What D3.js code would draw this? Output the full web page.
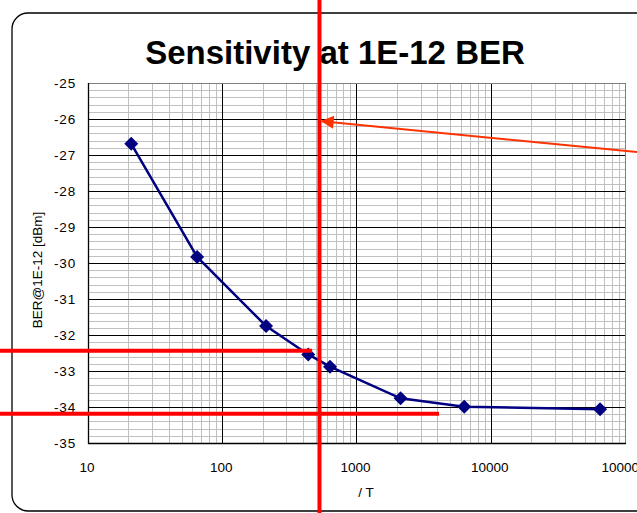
<!DOCTYPE html>
<html>
<head>
<meta charset="utf-8">
<script src="https://cdn.jsdelivr.net/npm/d3@7"></script>
<style>
  body { margin: 0; background: #fff; }
  svg { display: block; font-family: "Liberation Sans", Arial, sans-serif; }
</style>
</head>
<body>
<svg id="chart" width="637" height="513"></svg>
<script>
// data
var periods = [21, 65, 212, 437, 635, 2130, 6350, 65200];
var sensitivity = [-26.69, -29.83, -31.75, -32.54, -32.88, -33.76, -33.99, -34.06];
var xTicks = [10, 100, 1000, 10000, 100000];
var yTicks = [-25, -26, -27, -28, -29, -30, -31, -32, -33, -34, -35];

// red markup drawn on top, in data units
var markVertical = 530;
var markHorizontal = [{y: -32.44, xEnd: 467}, {y: -34.19, xEnd: 4120}];
var arrowFrom = {x: 123000, y: -26.92};
var arrowTo = {x: 553, y: -26.06};

var svg = d3.select("#chart");
var W = 637, H = 513;
var margin = {top: 83, right: 12, bottom: 70, left: 88};

svg.append("rect").attr("width", W).attr("height", H).attr("fill", "#fff");

// outer chart frame (runs off the right edge)
svg.append("rect")
    .attr("x", 12).attr("y", 13)
    .attr("width", 700).attr("height", 498)
    .attr("rx", 16).attr("ry", 16)
    .attr("fill", "none")
    .attr("stroke", "#000")
    .attr("stroke-width", 1.3);

var x = d3.scaleLog()
    .domain([10, 100000])
    .range([margin.left, W - margin.right]);

var y = d3.scaleLinear()
    .domain([-35, -25])
    .range([H - margin.bottom, margin.top]);

var g = svg.append("g");

// minor grid
var minorX = [];
[10, 100, 1000, 10000].forEach(function(d) {
    for (var k = 2; k <= 9; k++) minorX.push(d * k);
});
var minorY = d3.range(-350, -250, 2).map(function(v) { return v / 10; })
    .filter(function(v) { return Math.round(v) !== v; });

g.selectAll(".minx").data(minorX).enter().append("line")
    .attr("x1", function(d) { return Math.round(x(d)) + 0.5; })
    .attr("x2", function(d) { return Math.round(x(d)) + 0.5; })
    .attr("y1", y(-25)).attr("y2", y(-35))
    .attr("stroke", "#c0c0c0");

g.selectAll(".miny").data(minorY).enter().append("line")
    .attr("x1", x(10)).attr("x2", x(100000))
    .attr("y1", function(d) { return Math.round(y(d)) + 0.5; })
    .attr("y2", function(d) { return Math.round(y(d)) + 0.5; })
    .attr("stroke", "#c0c0c0");

// major grid
g.selectAll(".majx").data([100, 1000, 10000]).enter().append("line")
    .attr("x1", function(d) { return Math.round(x(d)) + 0.5; })
    .attr("x2", function(d) { return Math.round(x(d)) + 0.5; })
    .attr("y1", y(-25)).attr("y2", y(-35))
    .attr("stroke", "#000");

g.selectAll(".majy").data(yTicks.slice(1, -1)).enter().append("line")
    .attr("x1", x(10)).attr("x2", x(100000))
    .attr("y1", function(d) { return Math.round(y(d)) + 0.5; })
    .attr("y2", function(d) { return Math.round(y(d)) + 0.5; })
    .attr("stroke", "#000");

// plot border
g.append("rect")
    .attr("x", Math.round(x(10)) + 0.5).attr("y", Math.round(y(-25)) + 0.5)
    .attr("width", Math.round(x(100000)) - Math.round(x(10)))
    .attr("height", Math.round(y(-35)) - Math.round(y(-25)))
    .attr("fill", "none").attr("stroke", "#808080");

// axes lines
svg.append("line")
    .attr("x1", Math.round(x(10)) + 0.5).attr("x2", Math.round(x(10)) + 0.5)
    .attr("y1", y(-25)).attr("y2", y(-35) + 1)
    .attr("stroke", "#000").attr("stroke-width", 1.3);
svg.append("line")
    .attr("x1", x(10)).attr("x2", x(100000) + 1)
    .attr("y1", Math.round(y(-35)) + 0.5).attr("y2", Math.round(y(-35)) + 0.5)
    .attr("stroke", "#000").attr("stroke-width", 1.3);

// tick labels
svg.append("g").selectAll("text").data(yTicks).enter().append("text")
    .attr("x", 76)
    .attr("y", function(d) { return y(d) + 5; })
    .attr("text-anchor", "end")
    .attr("font-size", 13.5)
    .attr("letter-spacing", 0.8)
    .text(function(d) { return d; });

svg.append("g").selectAll("text").data(xTicks).enter().append("text")
    .attr("x", function(d) { return x(d) - 1; })
    .attr("y", 472)
    .attr("text-anchor", "middle")
    .attr("font-size", 13.5)
    .text(function(d) { return d; });

// titles
svg.append("text")
    .attr("x", 335).attr("y", 64)
    .attr("text-anchor", "middle")
    .attr("font-size", 33)
    .attr("font-weight", "bold")
    .text("Sensitivity at 1E-12 BER");

svg.append("text")
    .attr("transform", "translate(42,270) rotate(-90)")
    .attr("text-anchor", "middle")
    .attr("font-size", 13.5)
    .text("BER@1E-12 [dBm]");

svg.append("text")
    .attr("x", 366).attr("y", 497)
    .attr("text-anchor", "middle")
    .attr("font-size", 13.5)
    .text("/ T");

// series
var pts = periods.map(function(p, i) { return [p, sensitivity[i]]; });
var line = d3.line()
    .x(function(d) { return x(d[0]); })
    .y(function(d) { return y(d[1]); });

svg.append("path")
    .datum(pts)
    .attr("d", line)
    .attr("fill", "none")
    .attr("stroke", "#000080")
    .attr("stroke-width", 2.5);

svg.selectAll(".dot").data(pts).enter().append("path")
    .attr("class", "dot")
    .attr("transform", function(d) { return "translate(" + x(d[0]) + "," + y(d[1]) + ")"; })
    .attr("d", "M0,-7L7,0L0,7L-7,0Z")
    .attr("fill", "#000080");

// red markup
var red = svg.append("g");
red.append("line")
    .attr("x1", x(markVertical)).attr("x2", x(markVertical))
    .attr("y1", 0).attr("y2", H)
    .attr("stroke", "#ff0000").attr("stroke-width", 4);

red.selectAll(".hl").data(markHorizontal).enter().append("line")
    .attr("x1", 0).attr("x2", function(d) { return x(d.xEnd); })
    .attr("y1", function(d) { return y(d.y); })
    .attr("y2", function(d) { return y(d.y); })
    .attr("stroke", "#ff0000").attr("stroke-width", 4);

svg.append("defs").append("marker")
    .attr("id", "head")
    .attr("viewBox", "0 0 10 10")
    .attr("refX", 9).attr("refY", 5)
    .attr("markerWidth", 7.5).attr("markerHeight", 6.5)
    .attr("markerUnits", "strokeWidth")
    .attr("orient", "auto")
    .append("path").attr("d", "M0,0L10,5L0,10Z").attr("fill", "#ff3300");

red.append("line")
    .attr("x1", x(arrowFrom.x)).attr("y1", y(arrowFrom.y))
    .attr("x2", x(arrowTo.x)).attr("y2", y(arrowTo.y))
    .attr("stroke", "#ff3300").attr("stroke-width", 2)
    .attr("marker-end", "url(#head)");
</script>
</body>
</html>
